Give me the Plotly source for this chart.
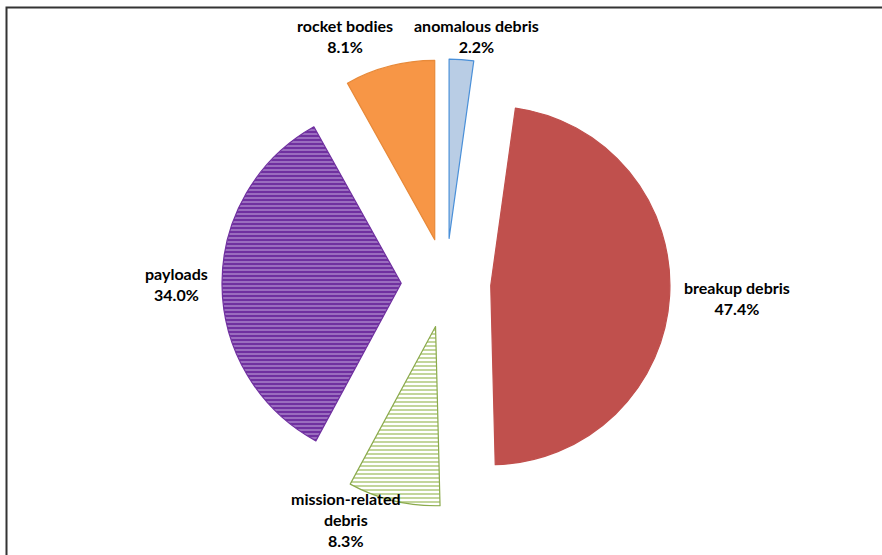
import plotly.graph_objects as go

labels = ["anomalous debris", "breakup debris", "mission-related debris", "payloads", "rocket bodies"]
label_text = ["anomalous debris", "breakup debris", "mission-related<br>debris", "payloads", "rocket bodies"]
values = [2.2, 47.4, 8.3, 34.0, 8.1]

fill_colors = ["#B9CDE5", "#C0504D", "#FFFFFF", "#7030A0", "#F79646"]
line_colors = ["#4A90D9", "#C0504D", "#8BAA4C", "#7030A0", "#E88A3A"]
pattern_shapes = ["", "", "-", "-", ""]
pattern_fg = ["#FFFFFF", "#FFFFFF", "#9BBB59", "#D9C8EC", "#FFFFFF"]
pattern_solidity = [0.3, 0.3, 0.3, 0.2, 0.3]
pulls = [0.25, 0.25, 0.25, 0.25, 0.25]

# label anchor positions (pixel coords in 882x555 canvas)
label_pos = [(476, 36), (737, 298), (346, 519), (176, 284), (345, 36)]

W, H = 882, 555

fig = go.Figure()
fig.add_trace(go.Pie(
    labels=labels,
    values=values,
    sort=False,
    direction="clockwise",
    rotation=0,
    pull=pulls,
    textinfo="none",
    hoverinfo="label+percent",
    showlegend=False,
    marker=dict(
        colors=fill_colors,
        line=dict(color=line_colors, width=1.2),
        pattern=dict(
            shape=pattern_shapes,
            fgcolor=pattern_fg,
            bgcolor=fill_colors,
            size=4,
            solidity=pattern_solidity,
        ),
    ),
    domain=dict(x=[222 / W, 670 / W], y=[1 - 507 / H, 1 - 59 / H]),
))

for lt, v, (px, py) in zip(label_text, values, label_pos):
    fig.add_annotation(
        x=px / W, y=1 - py / H, xref="paper", yref="paper",
        text=f"<b>{lt}<br>{v:.1f}%</b>",
        showarrow=False, align="center",
        xanchor="center", yanchor="middle",
        font=dict(family="Lato", size=16, color="#000000"),
    )

fig.add_shape(
    type="rect", xref="paper", yref="paper",
    x0=6.5 / W, x1=1.05, y0=-0.05, y1=1 - 7.5 / H,
    line=dict(color="#333333", width=2), fillcolor="rgba(0,0,0,0)",
)

fig.update_layout(
    width=W, height=H,
    margin=dict(l=0, r=0, t=0, b=0),
    paper_bgcolor="white", plot_bgcolor="white",
)

fig.write_html("out.html")
